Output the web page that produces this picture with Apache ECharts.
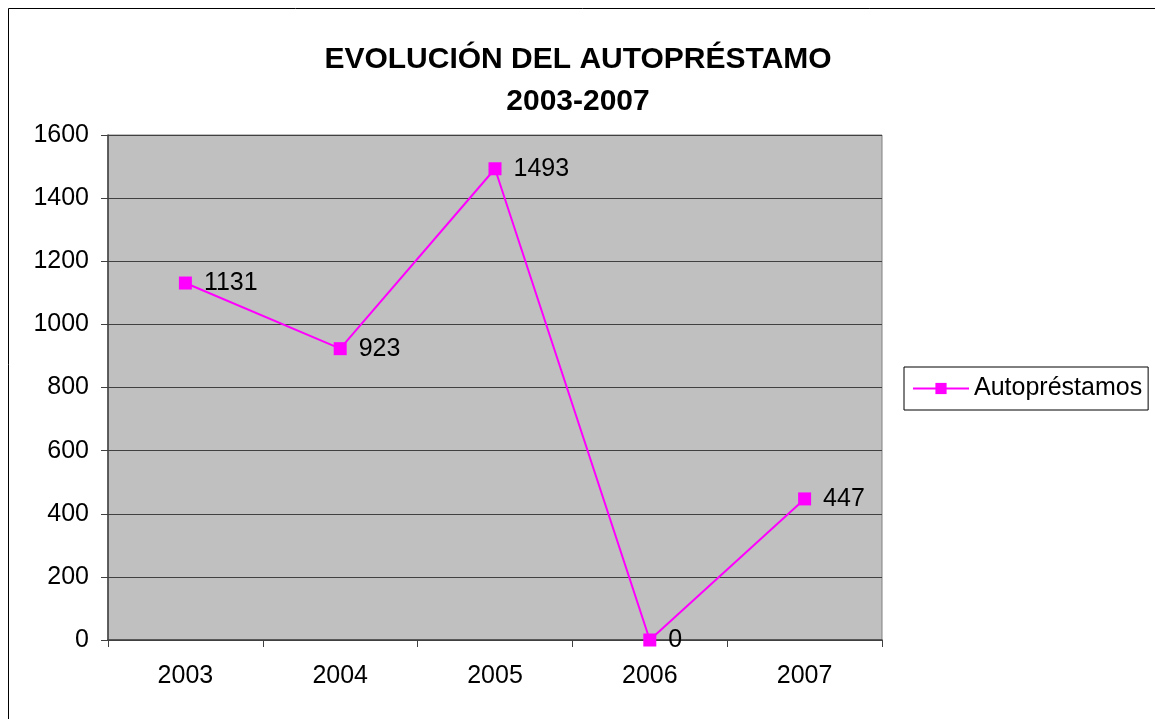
<!DOCTYPE html>
<html>
<head>
<meta charset="utf-8">
<script src="https://cdn.jsdelivr.net/npm/echarts@6/dist/echarts.min.js"></script>
<style>
  html, body { margin: 0; padding: 0; background: #fff; }
  #chart { width: 1155px; height: 719px; }
</style>
</head>
<body>
<div id="chart"></div>
<script>
const years = ["2003", "2004", "2005", "2006", "2007"];
const autoprestamos = [1131, 923, 1493, 0, 447];
const yTicks = { min: 0, max: 1600, interval: 200 };

const chart = echarts.init(document.getElementById("chart"), null, { renderer: "canvas" });

chart.setOption({
  animation: false,
  textStyle: { fontFamily: "Liberation Sans, Arial, sans-serif" },
  title: {
    text: "EVOLUCIÓN DEL AUTOPRÉSTAMO\n2003-2007",
    left: 573,
    top: 34,
    textAlign: "center",
    textStyle: { fontSize: 30, fontWeight: "bold", color: "#000", lineHeight: 42 },
  },
  grid: { left: 108, right: 273, top: 135, bottom: 79, show: true, backgroundColor: "#c0c0c0", borderColor: "#808080", borderWidth: 1 },
  legend: {
    left: 904,
    top: 367,
    data: ["Autopréstamos"],
    padding: [9, 6, 9, 8],
    borderColor: "#000",
    borderWidth: 1,
    itemWidth: 56,
    itemHeight: 14,
    itemGap: 0,
    textStyle: { fontSize: 25, color: "#000", padding: [0, 0, 0, 0] },
  },
  xAxis: {
    type: "category",
    boundaryGap: true,
    data: years,
    axisLine: { lineStyle: { color: "#404040", width: 1.5 } },
    axisTick: { show: true, length: 7, lineStyle: { color: "#404040" } },
    axisLabel: { fontSize: 25, color: "#000", margin: 24 },
  },
  yAxis: {
    type: "value",
    min: yTicks.min,
    max: yTicks.max,
    interval: yTicks.interval,
    axisLine: { show: true, lineStyle: { color: "#404040", width: 1.5 } },
    axisTick: { show: true, length: 7, lineStyle: { color: "#404040" } },
    axisLabel: { fontSize: 25, color: "#000", margin: 19, formatter: (v) => String(v) },
    splitLine: { lineStyle: { color: "#404040", width: 1 } },
  },
  series: [
    {
      name: "Autopréstamos",
      type: "line",
      data: autoprestamos,
      symbol: "rect",
      symbolSize: 13,
      lineStyle: { color: "#ff00ff", width: 2 },
      itemStyle: { color: "#ff00ff" },
      label: {
        show: true,
        position: "right",
        distance: 12,
        fontSize: 25,
        color: "#000",
      },
    },
  ],
  graphic: [
    {
      type: "rect",
      shape: { x: 8.5, y: 8.5, width: 1160, height: 720 },
      style: { fill: "none", stroke: "#000", lineWidth: 1 },
      silent: true,
    },
  ],
});
</script>
</body>
</html>
